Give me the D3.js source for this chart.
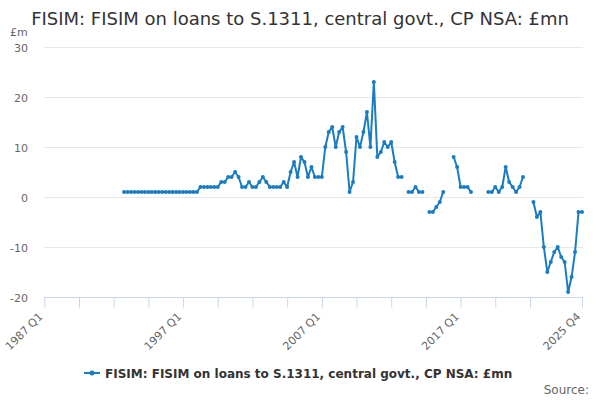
<!DOCTYPE html>
<html>
<head>
<meta charset="utf-8">
<script src="https://cdn.jsdelivr.net/npm/d3@7"></script>
<style>
  body { margin: 0; background: #fff; }
  svg { font-family: "DejaVu Sans", Verdana, sans-serif; }
</style>
</head>
<body>
<div id="chart"></div>
<script>
// series: FISIM on loans to S.1311, quarterly, 1987 Q1 .. 2025 Q4 (null = no value)
var firstYear = 1987;
var lastYear = 2025;
var values = [
  null, null, null, null, null, null, null, null, null, null,
  null, null, null, null, null, null, null, null, null, null,
  null, null, null, 1, 1, 1, 1, 1, 1, 1,
  1, 1, 1, 1, 1, 1, 1, 1, 1, 1,
  1, 1, 1, 1, 1, 2, 2, 2, 2, 2,
  2, 3, 3, 4, 4, 5, 4, 2, 2, 3,
  2, 2, 3, 4, 3, 2, 2, 2, 2, 3,
  2, 5, 7, 4, 8, 7, 4, 6, 4, 4,
  4, 10, 13, 14, 10, 13, 14, 9, 1, 3,
  12, 10, 13, 17, 10, 23, 8, 9, 11, 10,
  11, 7, 4, 4, null, 1, 1, 2, 1, 1,
  null, -3, -3, -2, -1, 1, null, null, 8, 6,
  2, 2, 2, 1, null, null, null, null, 1, 1,
  2, 1, 2, 6, 3, 2, 1, 2, 4, null,
  null, -1, -4, -3, -10, -15, -13, -11, -10, -12,
  -13, -19, -16, -11, -3, -3
];
var tickLabels = ["1987 Q1", "1997 Q1", "2007 Q1", "2017 Q1", "2025 Q4"];
var yTicks = [30, 20, 10, 0, -10, -20];
var seriesName = "FISIM: FISIM on loans to S.1311, central govt., CP NSA: £mn";

var categories = [];
for (var y = firstYear; y <= lastYear; y++) {
    for (var q = 1; q <= 4; q++) {
        categories.push(y + " Q" + q);
    }
}

var data = categories.map(function(c, i) { return {cat: c, value: values[i]}; });

// tick marks every 10 quarters, the one nearest the end is dropped, last category forced
var tickCats = [];
for (var i = 0; i < categories.length - 10; i += 10) {
    tickCats.push(categories[i]);
}
tickCats.push(categories[categories.length - 1]);

var color = "#1a7cc1";
var width = 600, height = 400;

var svg = d3.select("#chart")
    .append("svg")
    .attr("width", width)
    .attr("height", height);

var x = d3.scalePoint()
    .domain(categories)
    .range([44.3, 582]);

var yScale = d3.scaleLinear()
    .domain([-20, 30])
    .range([297, 47]);

// title
svg.append("text")
    .attr("x", 300)
    .attr("y", 25)
    .attr("text-anchor", "middle")
    .style("font-size", "18px")
    .style("fill", "#333")
    .text(seriesName);

// unit
svg.append("text")
    .attr("x", 10)
    .attr("y", 36)
    .style("font-size", "11px")
    .style("fill", "#666")
    .text("£m");

// grid
svg.append("g")
    .selectAll("line")
    .data(yTicks)
    .enter().append("line")
    .attr("x1", 44)
    .attr("x2", 583)
    .attr("y1", function(d) { return Math.round(yScale(d)) + 0.5; })
    .attr("y2", function(d) { return Math.round(yScale(d)) + 0.5; })
    .attr("stroke", "#e6e6e6")
    .attr("stroke-width", 1);

// y axis labels (plain hyphen for negatives)
var yAxis = d3.axisLeft(yScale)
    .tickValues(yTicks)
    .tickSize(0)
    .tickPadding(0)
    .tickFormat(function(d) { return String(d); });

var yg = svg.append("g")
    .attr("transform", "translate(28,0)")
    .call(yAxis);
yg.select(".domain").remove();
yg.selectAll("text")
    .attr("dy", "0.4em")
    .style("font-family", "DejaVu Sans, sans-serif")
    .style("font-size", "11px")
    .style("fill", "#666");

// x axis
var xAxis = d3.axisBottom(x)
    .tickValues(tickCats)
    .tickSize(10)
    .tickFormat(function(d) { return tickLabels.indexOf(d) >= 0 ? d : ""; });

var xg = svg.append("g")
    .attr("transform", "translate(0,297.5)")
    .call(xAxis);
xg.select(".domain")
    .attr("d", "M44,0H583")
    .attr("stroke", "#ccd6eb");
xg.selectAll(".tick line")
    .attr("stroke", "#ccd6eb");
xg.selectAll("text")
    .attr("text-anchor", "end")
    .attr("transform", "rotate(-45)")
    .attr("x", -15)
    .attr("y", 13)
    .attr("dy", 0)
    .style("font-family", "DejaVu Sans, sans-serif")
    .style("font-size", "11px")
    .style("fill", "#666");

// series line, broken where values are missing
var line = d3.line()
    .defined(function(d) { return d.value !== null; })
    .x(function(d) { return x(d.cat); })
    .y(function(d) { return yScale(d.value); });

svg.append("path")
    .datum(data)
    .attr("d", line)
    .attr("fill", "none")
    .attr("stroke", color)
    .attr("stroke-width", 2)
    .attr("stroke-linejoin", "round");

svg.append("g")
    .selectAll("circle")
    .data(data.filter(function(d) { return d.value !== null; }))
    .enter().append("circle")
    .attr("cx", function(d) { return x(d.cat); })
    .attr("cy", function(d) { return yScale(d.value); })
    .attr("r", 2)
    .attr("fill", color);

// legend
var legend = svg.append("g").attr("transform", "translate(84,373)");
legend.append("line")
    .attr("x1", 0).attr("x2", 16)
    .attr("y1", 0).attr("y2", 0)
    .attr("stroke", color)
    .attr("stroke-width", 2);
legend.append("circle")
    .attr("cx", 8).attr("cy", 0)
    .attr("r", 2.5)
    .attr("fill", color);
legend.append("text")
    .attr("x", 21)
    .attr("y", 4.5)
    .style("font-size", "12px")
    .style("font-weight", "bold")
    .style("fill", "#333")
    .text(seriesName);

// credits
svg.append("text")
    .attr("x", 589)
    .attr("y", 394)
    .attr("text-anchor", "end")
    .style("font-size", "12px")
    .style("fill", "#666")
    .text("Source:");
</script>
</body>
</html>
